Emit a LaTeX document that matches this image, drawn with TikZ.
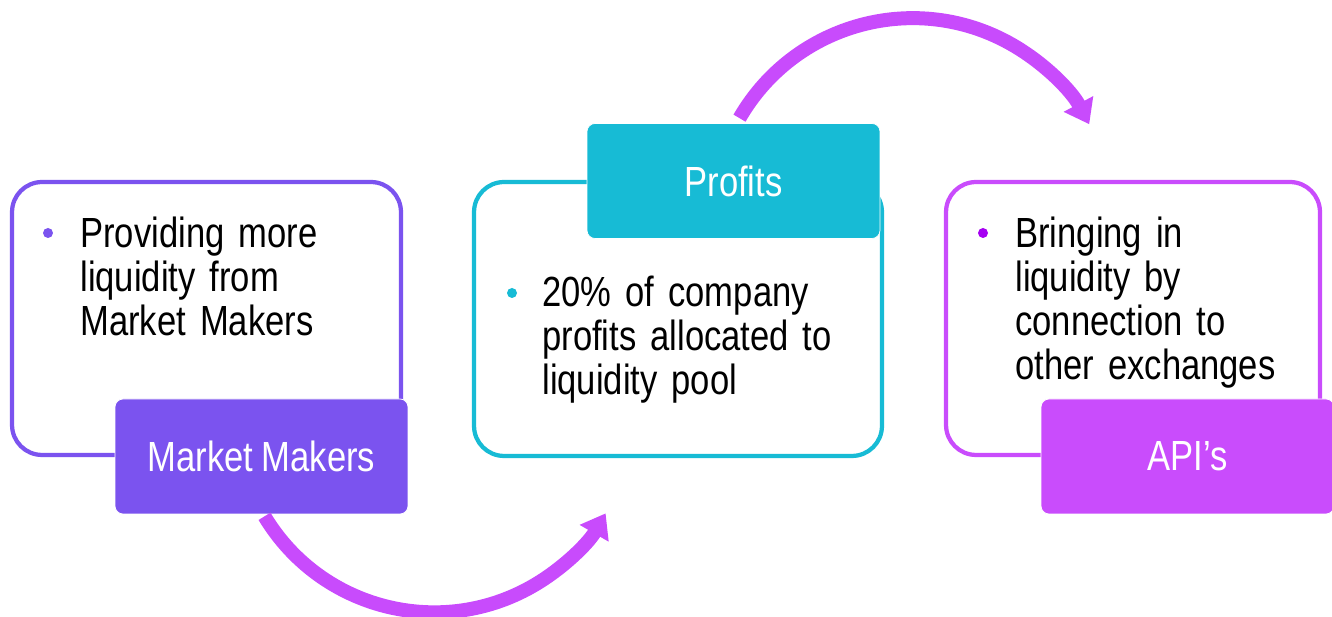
\documentclass[tikz,border=0pt]{standalone}
\usepackage{fontspec}
\setmainfont{Liberation Sans}[FakeStretch=0.82, WordSpace=0.85]
\usetikzlibrary{arrows.meta}
\definecolor{mmpurple}{HTML}{7B53EF}
\definecolor{proteal}{HTML}{17BBD5}
\definecolor{apimag}{HTML}{C94CFC}
\definecolor{apidot}{HTML}{A600F2}
\definecolor{loopmag}{HTML}{C84BFC}
\tikzset{
	panel/.style={draw=#1, line width=0.085cm, rounded corners=0.6cm, fill=white, inner sep=0pt},
	tag/.style={fill=#1, draw=white, line width=0.4pt, rounded corners=0.16cm, text=white,
		minimum width=5.86cm, minimum height=2.3cm, inner sep=0pt, font=\fontsize{24}{25}\selectfont},
	blurb/.style={anchor=base west, align=left, inner sep=0pt, text width=7.5cm, font=\fontsize{24}{25}\selectfont},
	dot/.style={circle, fill=#1, inner sep=0pt, minimum size=0.2cm},
	loop/.style={draw=loopmag, line width=0.28cm, -{Triangle[length=0.46cm, width=0.64cm]}}
}

\begin{document}
\begin{tikzpicture}[x=0.02cm, y=0.02cm]
		%%%%% START %%%%%
		\useasboundingbox (0, 0) rectangle (1332, 617);
		
		% panels
		\node[panel=mmpurple, minimum width=7.78cm, minimum height=5.46cm] (mmbox) at (206.5, 298.5) {};
		\node[panel=proteal, minimum width=8.16cm, minimum height=5.48cm] (probox) at (678, 298) {};
		\node[panel=apimag, minimum width=7.48cm, minimum height=5.46cm] (apibox) at (1133, 298.5) {};
		
		% tags
		\node[tag=mmpurple] (mmtag) at (261.5, 160.5) {Market Makers};
		\node[tag=proteal] (protag) at (733.5, 436) {Profits};
		\node[tag=apimag] (apitag) at (1187.5, 160.5) {API’s};
		
		% bullets
		\node[dot=mmpurple] (mmdot) at (48, 384) {};
		\node[blurb] (mmtext) at (80, 369) {Providing more\\liquidity from\\Market Makers};
		\node[dot=proteal] (prodot) at (512, 324) {};
		\node[blurb] (protext) at (542, 310) {20\% of company\\profits allocated to\\liquidity pool};
		\node[dot=apidot] (apidot) at (983, 384) {};
		\node[blurb] (apitext) at (1015, 369) {Bringing in\\liquidity by\\connection to\\other exchanges};
		
		% loops
		\coordinate (mmfoot) at ([shift={(3,-2)}]mmtag.south);
		\coordinate (protop) at ([shift={(6,5)}]protag.north);
		\draw[loop] (mmfoot) arc[start angle=211, end angle=330, radius=3.96cm];
		\draw[loop] (protop) arc[start angle=150, end angle=28, radius=4cm];
		%%%%% END %%%%%
\end{tikzpicture}
\end{document}
